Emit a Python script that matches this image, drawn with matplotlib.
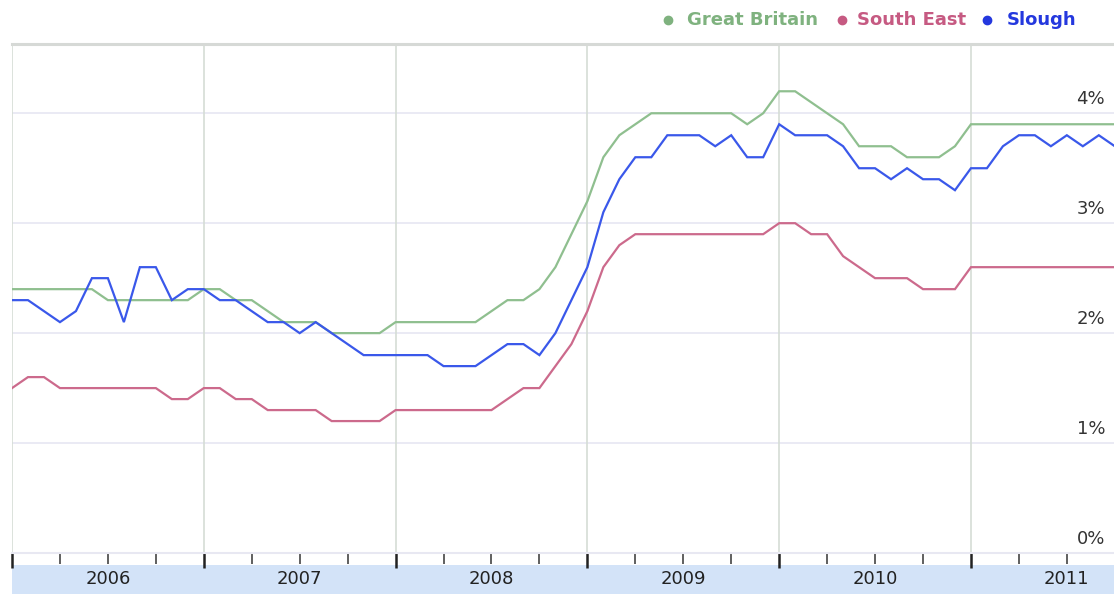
import matplotlib
matplotlib.use("Agg")
import matplotlib.pyplot as plt
from matplotlib.lines import Line2D
from matplotlib.patches import Rectangle
import numpy as np

# monthly values, Jan 2006 .. Oct 2011 (percent)
great_britain = [
    2.4, 2.4, 2.4, 2.4, 2.4, 2.4, 2.3, 2.3, 2.3, 2.3, 2.3, 2.3,
    2.4, 2.4, 2.3, 2.3, 2.2, 2.1, 2.1, 2.1, 2.0, 2.0, 2.0, 2.0,
    2.1, 2.1, 2.1, 2.1, 2.1, 2.1, 2.2, 2.3, 2.3, 2.4, 2.6, 2.9,
    3.2, 3.6, 3.8, 3.9, 4.0, 4.0, 4.0, 4.0, 4.0, 4.0, 3.9, 4.0,
    4.2, 4.2, 4.1, 4.0, 3.9, 3.7, 3.7, 3.7, 3.6, 3.6, 3.6, 3.7,
    3.9, 3.9, 3.9, 3.9, 3.9, 3.9, 3.9, 3.9, 3.9, 3.9,
]
south_east = [
    1.5, 1.6, 1.6, 1.5, 1.5, 1.5, 1.5, 1.5, 1.5, 1.5, 1.4, 1.4,
    1.5, 1.5, 1.4, 1.4, 1.3, 1.3, 1.3, 1.3, 1.2, 1.2, 1.2, 1.2,
    1.3, 1.3, 1.3, 1.3, 1.3, 1.3, 1.3, 1.4, 1.5, 1.5, 1.7, 1.9,
    2.2, 2.6, 2.8, 2.9, 2.9, 2.9, 2.9, 2.9, 2.9, 2.9, 2.9, 2.9,
    3.0, 3.0, 2.9, 2.9, 2.7, 2.6, 2.5, 2.5, 2.5, 2.4, 2.4, 2.4,
    2.6, 2.6, 2.6, 2.6, 2.6, 2.6, 2.6, 2.6, 2.6, 2.6,
]
slough = [
    2.3, 2.3, 2.2, 2.1, 2.2, 2.5, 2.5, 2.1, 2.6, 2.6, 2.3, 2.4,
    2.4, 2.3, 2.3, 2.2, 2.1, 2.1, 2.0, 2.1, 2.0, 1.9, 1.8, 1.8,
    1.8, 1.8, 1.8, 1.7, 1.7, 1.7, 1.8, 1.9, 1.9, 1.8, 2.0, 2.3,
    2.6, 3.1, 3.4, 3.6, 3.6, 3.8, 3.8, 3.8, 3.7, 3.8, 3.6, 3.6,
    3.9, 3.8, 3.8, 3.8, 3.7, 3.5, 3.5, 3.4, 3.5, 3.4, 3.4, 3.3,
    3.5, 3.5, 3.7, 3.8, 3.8, 3.7, 3.8, 3.7, 3.8, 3.7,
]
years = ["2006", "2007", "2008", "2009", "2010", "2011"]
y_ticks = [0, 1, 2, 3, 4]

series = [
    ("Great Britain", great_britain, "#8fbf8f", "#7fb27f"),
    ("South East", south_east, "#cc6a8c", "#c65a82"),
    ("Slough", slough, "#3a58ea", "#2438de"),
]

W, H = 1114, 594
fig = plt.figure(figsize=(W / 100, H / 100), dpi=100)
ax = fig.add_axes([12 / W, (H - 553) / H, 1102 / W, 509 / H])

months = np.arange(len(slough))
for name, vals, col, _ in series:
    ax.plot(months, vals, color=col, lw=1.6, solid_joinstyle="miter", zorder=3)

ax.set_xlim(0, 68.95)
ax.set_ylim(0, 4.63)

# grid
for v in y_ticks[1:]:
    ax.axhline(v, color="#e6e6f2", lw=1.2, zorder=1)
year_starts = [12 * i for i in range(len(years))]
for x in year_starts:
    ax.axvline(x, color="#d5ddd5", lw=1.2, zorder=1)

for s in ["left", "right"]:
    ax.spines[s].set_visible(False)
ax.spines["top"].set_color("#d6d9d6")
ax.spines["top"].set_linewidth(2.2)
ax.spines["bottom"].set_color("#e8e8f2")
ax.spines["bottom"].set_linewidth(1.5)

ax.set_xticks(year_starts)
ax.set_xticks([m for m in range(0, 69, 3) if m % 12], minor=True)
ax.tick_params(axis="x", which="major", length=11, width=1.8, color="#222222",
               labelbottom=False, direction="out")
ax.tick_params(axis="x", which="minor", length=8, width=1.2, color="#444444",
               direction="out")
ax.set_yticks([])

# y labels inside on the right
for v in y_ticks:
    ax.text(0.992, v + 0.13, f"{v}%", transform=ax.get_yaxis_transform(),
            ha="right", va="center", fontsize=13, color="#333333")

# blue band with year labels
fig.add_artist(Rectangle((12 / W, 0), 1102 / W, 29 / H, transform=fig.transFigure,
                         facecolor="#d3e3f8", edgecolor="none", zorder=0))
for i, yr in enumerate(years):
    xf = (12 + 15.98 * (12 * i + 6)) / W
    fig.text(xf, (H - 579) / H, yr, ha="center", va="center",
             fontsize=13, color="#222222")

# legend along the top
leg_dots = [668, 842, 987]
leg_text = [687, 857, 1007]
for (name, _, _, tcol), dx, tx in zip(series, leg_dots, leg_text):
    fig.add_artist(Line2D([dx / W], [1 - 20 / H], marker="o", markersize=6,
                          color=tcol, transform=fig.transFigure, linestyle="none"))
    fig.text(tx / W, 1 - 20 / H, name, ha="left", va="center", fontsize=13,
             fontweight="bold", color=tcol)

fig.savefig("out.png", dpi=100)
